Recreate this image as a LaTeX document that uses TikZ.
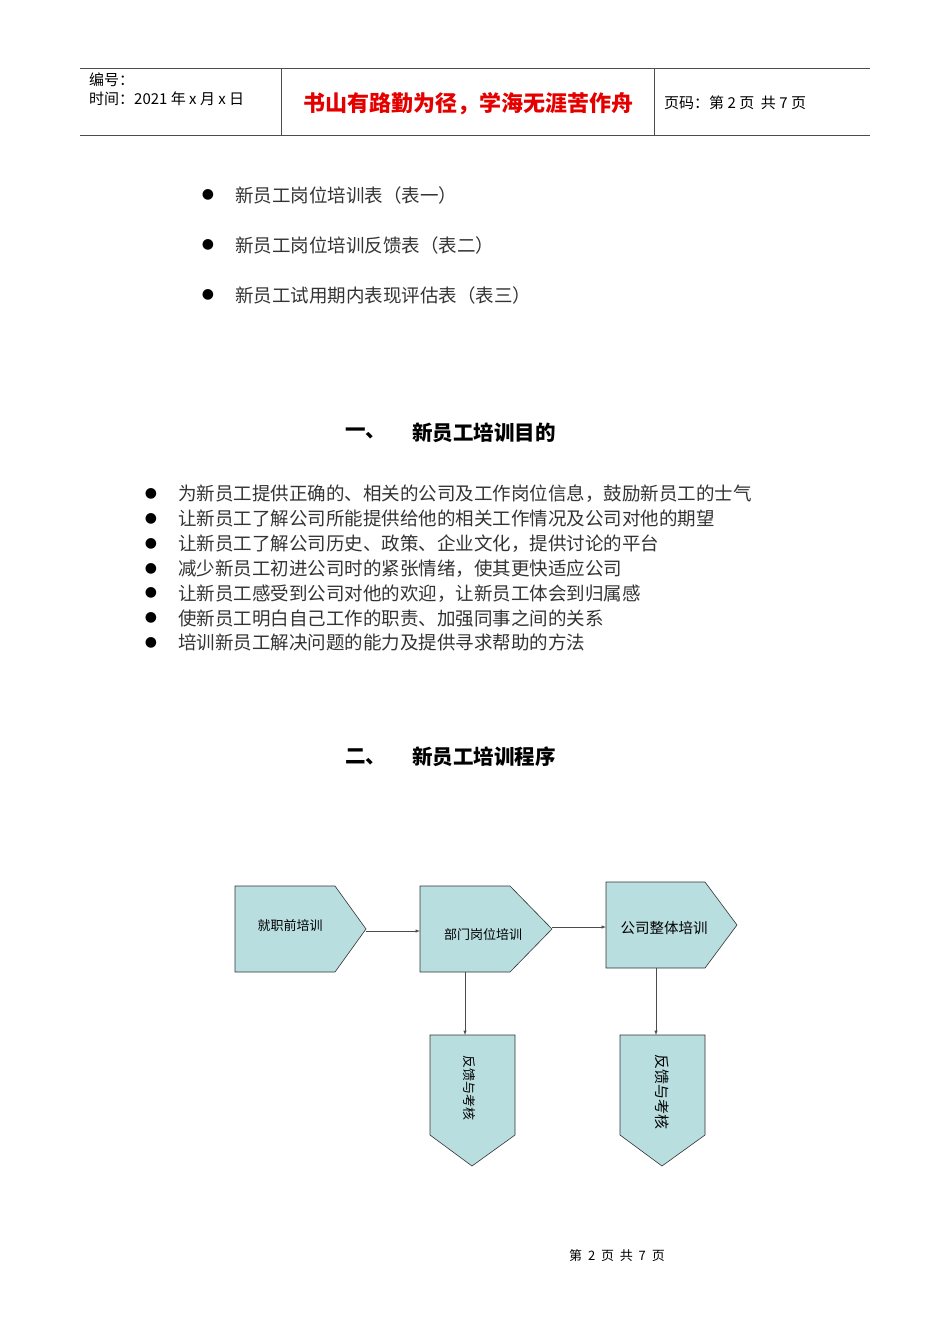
\documentclass[tikz,border=0pt]{standalone}
\usepackage{fontspec}
\setmainfont{Noto Sans CJK SC}
\newfontfamily\sym{DejaVu Sans}
\definecolor{boxfill}{HTML}{B9DEE0}
\begin{document}
\begin{tikzpicture}[x=1pt,y=-1pt,
  box/.style={draw=black!80,fill=boxfill,line width=0.6pt},
  conn/.style={draw=black!70,line width=0.5pt,-latex},
  body/.style={anchor=west,inner sep=0,font=\fontsize{18.5}{18.5}\selectfont\color{black!80}},
  bul/.style={anchor=center,inner sep=0,font=\sym\fontsize{14}{14}\selectfont},
  lbl/.style={inner sep=0,font=\fontsize{13}{13}\selectfont}]
\useasboundingbox (0,0) rectangle (950,1344);
% header
\draw[line width=0.8pt,black!70] (80,68)--(870,68) (80,135)--(870,135) (281,68)--(281,135) (654,68)--(654,135);
\node[anchor=west,inner sep=0,font=\fontsize{15}{15}\selectfont] (h1) at (89,80) {编号：};
\node[anchor=west,inner sep=0,font=\fontsize{15}{15}\selectfont] (h2) at (89,99) {时间：2021 年 x 月 x 日};
\node[inner sep=0,font=\fontsize{22}{22}\selectfont\bfseries,text=red!90!black] (h3) at (468,104) {书山有路勤为径，学海无涯苦作舟};
\node[anchor=west,inner sep=0,font=\fontsize{15}{15}\selectfont] (h4) at (664,103) {页码：第 2 页 \ 共 7 页};
% top bullets
\foreach \y/\t [count=\i] in {195/新员工岗位培训表（表一）,245/新员工岗位培训反馈表（表二）,295/新员工试用期内表现评估表（表三）}{
  \node[bul] (tb\i) at (208,\y) {●};
  \node[body] (tt\i) at (235,\y) {\t};}
% section 1
\node[anchor=west,inner sep=0,font=\fontsize{20.5}{20.5}\selectfont\bfseries] (s1a) at (345,433) {一、};
\node[anchor=west,inner sep=0,font=\fontsize{20.5}{20.5}\selectfont\bfseries] (s1b) at (412,433) {新员工培训目的};
\foreach \t [count=\i] in {为新员工提供正确的、相关的公司及工作岗位信息，鼓励新员工的士气,让新员工了解公司所能提供给他的相关工作情况及公司对他的期望,让新员工了解公司历史、政策、企业文化，提供讨论的平台,减少新员工初进公司时的紧张情绪，使其更快适应公司,让新员工感受到公司对他的欢迎，让新员工体会到归属感,使新员工明白自己工作的职责、加强同事之间的关系,培训新员工解决问题的能力及提供寻求帮助的方法}{
  \node[bul] (b\i) at (151,{494+24.8*(\i-1)}) {●};
  \node[body] (t\i) at (178,{494+24.8*(\i-1)}) {\t};}
% section 2
\node[anchor=west,inner sep=0,font=\fontsize{20.5}{20.5}\selectfont\bfseries] (s2a) at (345,757) {二、};
\node[anchor=west,inner sep=0,font=\fontsize{20.5}{20.5}\selectfont\bfseries] (s2b) at (412,757) {新员工培训程序};
% flowchart
\path[box] (235,886)--(335,886)--(366,929)--(335,972)--(235,972)--cycle;
\path[box] (420,886)--(510,886)--(552,929)--(510,972)--(420,972)--cycle;
\path[box] (606,882)--(705,882)--(737,925)--(705,968)--(606,968)--cycle;
\path[box] (430,1035)--(515,1035)--(515,1135)--(472,1166)--(430,1135)--cycle;
\path[box] (620,1035)--(705,1035)--(705,1135)--(662,1166)--(620,1135)--cycle;
\node[lbl] (n1) at (290,926) {就职前培训};
\node[lbl] (n2) at (483,935) {部门岗位培训};
\node[lbl,font=\fontsize{14.5}{14.5}\selectfont] (n3) at (664,928) {公司整体培训};
\node[lbl,rotate=-90] (n4) at (469,1088) {反馈与考核};
\node[lbl,rotate=-90,font=\fontsize{15}{15}\selectfont] (n5) at (662,1092) {反馈与考核};
\coordinate (o1) at (366,931); \coordinate (i2) at (420,931);
\coordinate (o2) at (552,927); \coordinate (i3) at (606,927);
\coordinate (d2) at (465,972); \coordinate (f1) at (465,1035);
\coordinate (d3) at (656,968); \coordinate (f2) at (656,1035);
\draw[conn] (o1)--(i2); \draw[conn] (o2)--(i3);
\draw[conn] (d2)--(f1); \draw[conn] (d3)--(f2);
% footer
\node[inner sep=0,font=\fontsize{13}{13}\selectfont] (ft) at (617,1256) {第 \ 2 \ 页 \ 共 \ 7 \ 页};
\end{tikzpicture}
\end{document}
